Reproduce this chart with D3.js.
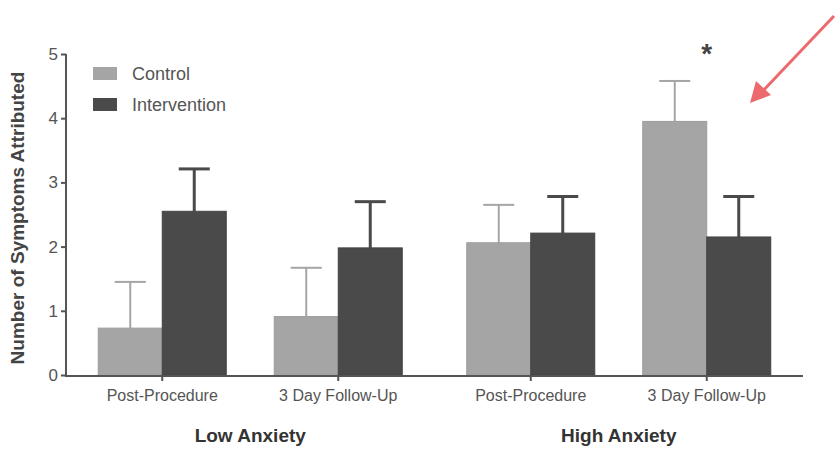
<!DOCTYPE html>
<html>
<head>
<meta charset="utf-8">
<script src="https://cdn.jsdelivr.net/npm/d3@7"></script>
<style>
  body { margin: 0; background: #fff; }
  text { font-family: "Liberation Sans", Arial, sans-serif; }
</style>
</head>
<body>
<svg id="chart" width="836" height="450"></svg>
<script>
// Data (means and error bar heights)
const anxiety = ["Low Anxiety", "High Anxiety"]
const times = ["Post-Procedure", "3 Day Follow-Up"]
const series = ["Control", "Intervention"]
const controlMeans = [0.73, 0.91, 2.06, 3.95]
const controlErr = [0.72, 0.76, 0.59, 0.63]
const interventionMeans = [2.55, 1.98, 2.21, 2.15]
const interventionErr = [0.66, 0.72, 0.57, 0.63]
const yTicks = [0, 1, 2, 3, 4, 5]

const colors = {Control: "#a5a5a5", Intervention: "#4a4a4a"}
const axisColor = "#555"

const svg = d3.select("#chart")

// Set up the scales
const x0 = d3.scalePoint().domain(anxiety).range([66, 803]).padding(0.5)
const x1 = d3.scalePoint().domain(times).range([-88, 88])
const xs = d3.scaleBand().domain(series).range([-64, 64])
const y = d3.scaleLinear().domain([0, 5]).range([375, 54])

// Flatten into one row per bar
const rows = []
anxiety.forEach((a, ai) => {
  times.forEach((t, ti) => {
    const i = ai * times.length + ti
    rows.push({a, t, s: "Control", v: controlMeans[i], e: controlErr[i]})
    rows.push({a, t, s: "Intervention", v: interventionMeans[i], e: interventionErr[i]})
  })
})
const cx = d => x0(d.a) + x1(d.t)

// Error bars (drawn first so bars sit over the stems)
const err = svg.append("g")
rows.forEach(d => {
  const mid = cx(d) + xs(d.s) + xs.bandwidth() / 2
  const w = d.s === "Control" ? 2 : 3
  err.append("line")
      .attr("x1", mid).attr("x2", mid)
      .attr("y1", y(d.v)).attr("y2", y(d.v + d.e))
      .attr("stroke", colors[d.s]).attr("stroke-width", w)
  err.append("line")
      .attr("x1", mid - 15.5).attr("x2", mid + 15.5)
      .attr("y1", y(d.v + d.e)).attr("y2", y(d.v + d.e))
      .attr("stroke", colors[d.s]).attr("stroke-width", w)
})

svg.append("g").selectAll("rect").data(rows).join("rect")
    .attr("x", d => cx(d) + xs(d.s))
    .attr("width", xs.bandwidth())
    .attr("y", d => y(d.v))
    .attr("height", d => y(0) - y(d.v))
    .attr("fill", d => colors[d.s])
    .attr("stroke", d => d.s === "Control" ? "#9c9c9c" : "#434343")
    .attr("stroke-width", 1)

// Y axis
const yAxis = svg.append("g")
    .attr("transform", "translate(66,0)")
    .call(d3.axisLeft(y).tickValues(yTicks).tickSize(5).tickPadding(3).tickFormat(d3.format("d")))
yAxis.select(".domain").attr("stroke", axisColor).attr("stroke-width", 2)
    .attr("d", `M0,${y(5)}V${y(0) + 1}`)
yAxis.selectAll(".tick line").attr("stroke", axisColor).attr("stroke-width", 2)
yAxis.selectAll(".tick text").attr("fill", "#555").style("font-size", "17px")

// X axis line and ticks
svg.append("line")
    .attr("x1", 65).attr("x2", 803)
    .attr("y1", y(0) + 1).attr("y2", y(0) + 1)
    .attr("stroke", axisColor).attr("stroke-width", 2)

const cats = []
anxiety.forEach(a => times.forEach(t => cats.push({a, t})))
svg.append("g").selectAll("line").data(cats).join("line")
    .attr("x1", cx).attr("x2", cx)
    .attr("y1", y(0) + 1).attr("y2", y(0) + 6)
    .attr("stroke", axisColor).attr("stroke-width", 2)
svg.append("g").selectAll("text").data(cats).join("text")
    .attr("x", cx).attr("y", 401)
    .attr("text-anchor", "middle")
    .attr("fill", "#555")
    .style("font-size", "16px")
    .text(d => d.t)

svg.append("g").selectAll("text").data(anxiety).join("text")
    .attr("x", d => x0(d)).attr("y", 442)
    .attr("text-anchor", "middle")
    .attr("fill", "#333")
    .style("font-size", "19px").style("font-weight", "bold")
    .text(d => d)

// Y axis title
svg.append("text")
    .attr("transform", "translate(24,218) rotate(-90)")
    .attr("text-anchor", "middle")
    .attr("fill", "#444")
    .style("font-size", "19px").style("font-weight", "bold")
    .text("Number of Symptoms Attributed")

// Legend
const legend = svg.append("g").attr("transform", "translate(93,67)")
series.forEach((s, i) => {
  legend.append("rect")
      .attr("x", 0).attr("y", i * 31)
      .attr("width", 24).attr("height", 13)
      .attr("fill", colors[s])
  legend.append("text")
      .attr("x", 39).attr("y", i * 31 + 13)
      .attr("fill", "#555")
      .style("font-size", "18px")
      .text(s)
})

// Significance marker
svg.append("text")
    .attr("x", x0("High Anxiety") + x1("3 Day Follow-Up")).attr("y", 63)
    .attr("text-anchor", "middle")
    .attr("fill", "#444")
    .style("font-size", "28px").style("font-weight", "bold")
    .text("*")

// Red pointer arrow
const red = "#ec6a6d"
svg.append("line")
    .attr("x1", 834).attr("y1", 16)
    .attr("x2", 760).attr("y2", 94)
    .attr("stroke", red).attr("stroke-width", 3)
svg.append("path")
    .attr("d", "M750,103 L756,81 L771,95 Z")
    .attr("fill", red)
</script>
</body>
</html>
